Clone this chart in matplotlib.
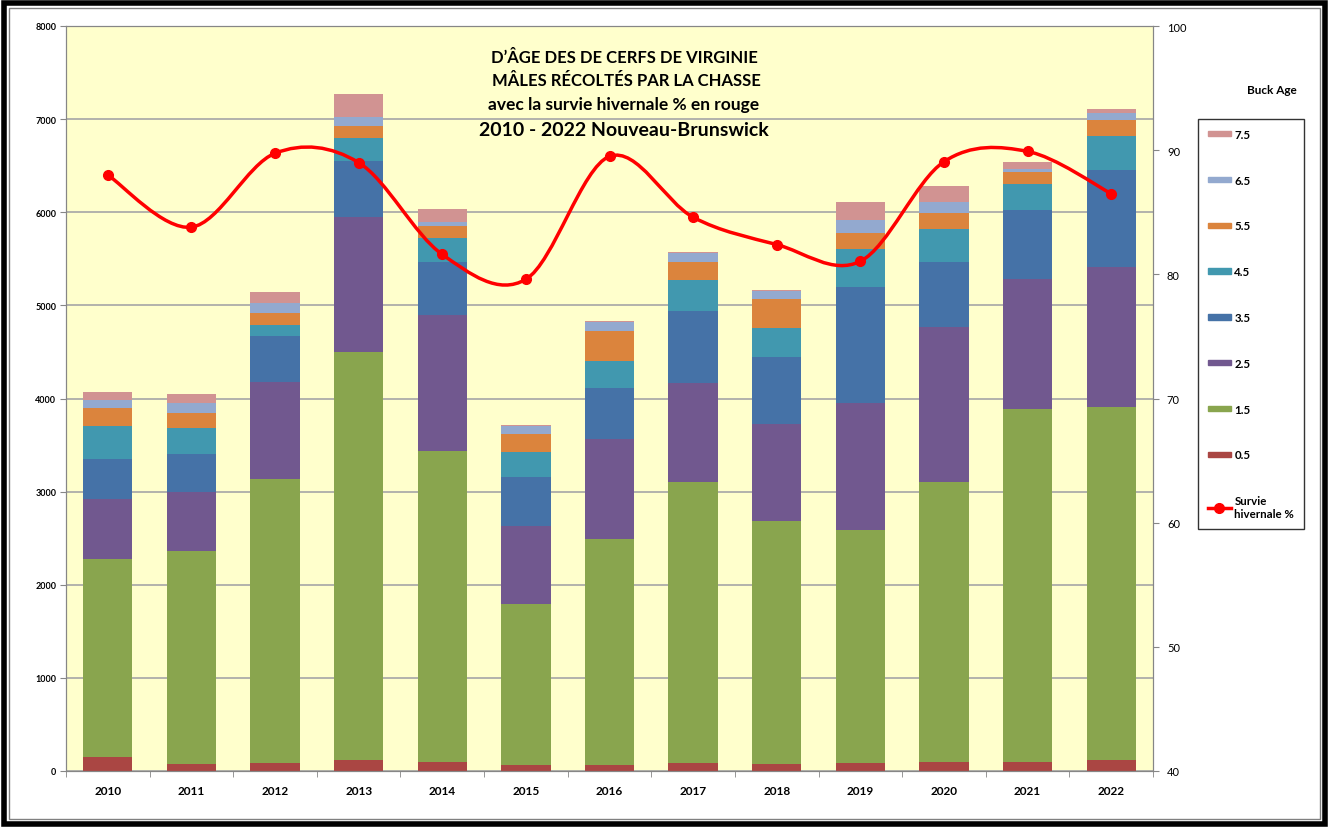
import numpy as np
import matplotlib
matplotlib.use("Agg")
import matplotlib.pyplot as plt
from matplotlib.path import Path
from matplotlib.patches import PathPatch, Patch, Rectangle
from matplotlib.lines import Line2D

plt.rcParams['font.family'] = ['Lato', 'DejaVu Sans']

# data
years = ['2010', '2011', '2012', '2013', '2014', '2015', '2016',
         '2017', '2018', '2019', '2020', '2021', '2022']
ages = ['0.5', '1.5', '2.5', '3.5', '4.5', '5.5', '6.5', '7.5']
age_05 = [155, 75, 89, 118, 100, 64, 64, 82, 72, 82, 100, 100, 122]
age_15 = [2125, 2290, 3050, 4381, 3339, 1726, 2424, 3018, 2613, 2506, 3007, 3787, 3787]
age_25 = [640, 627, 1038, 1450, 1456, 837, 1081, 1066, 1041, 1367, 1661, 1400, 1507]
age_35 = [425, 411, 494, 601, 575, 533, 544, 777, 723, 1246, 701, 737, 1038]
age_45 = [355, 276, 118, 247, 250, 265, 293, 329, 305, 408, 351, 282, 365]
age_55 = [195, 168, 125, 125, 135, 195, 322, 197, 314, 172, 176, 122, 171]
age_65 = [85, 104, 115, 104, 35, 86, 96, 97, 83, 136, 118, 36, 72]
age_75 = [90, 93, 115, 247, 145, 14, 5, 11, 14, 193, 165, 71, 47]
survie = [88.0, 83.8, 89.75, 89.0, 81.6, 79.6, 89.5, 84.6, 82.4, 81.05, 89.07, 89.9, 86.5]

colors = ['#AA4643', '#89A54E', '#71588F', '#4572A7',
          '#4198AF', '#DB843D', '#93A9CF', '#D19392']
series = [age_05, age_15, age_25, age_35, age_45, age_55, age_65, age_75]

fig = plt.figure(figsize=(13.29, 8.29), dpi=100)
W, H = 1329, 829
ax = fig.add_axes([66 / W, 1 - 772 / H, (1153 - 66) / W, (772 - 27) / H])
ax.set_facecolor('#FFFFCC')

x = np.arange(len(years))
bottom = np.zeros(len(years))
for vals, col in zip(series, colors):
    ax.bar(x, vals, 0.59, bottom=bottom, color=col, zorder=2)
    bottom += np.array(vals)

ax.set_xlim(-0.5, len(years) - 0.5)
ax.set_ylim(0, 8000)
ax.set_yticks(range(0, 8001, 1000))
ax.yaxis.grid(True, color='#A6A6A6', lw=1.2, zorder=0)
ax.set_axisbelow(True)
ax.set_xticks(x)
ax.set_xticklabels(years, fontsize=8.5, fontweight='bold')
ax.set_xticks(np.arange(-0.5, len(years), 1), minor=True)
ax.tick_params(axis='x', which='major', length=0, pad=10)
ax.tick_params(axis='x', which='minor', length=4, color='#868686')
ax.tick_params(axis='y', length=4, color='#868686', labelsize=6.5, pad=3)
for lab in ax.get_yticklabels():
    lab.set_fontweight('bold')
for sp in ax.spines.values():
    sp.set_color('#868686')

# survival line on right axis, smoothed like Excel
ax2 = ax.twinx()
ax2.set_ylim(40, 100)
ax2.set_yticks(range(40, 101, 10))
ax2.tick_params(axis='y', length=4, color='#868686', labelsize=8, pad=6)
for sp in ax2.spines.values():
    sp.set_color('#868686')

pts = np.column_stack([x, survie]).astype(float)
verts = [pts[0]]
codes = [Path.MOVETO]
n = len(pts)
for i in range(n - 1):
    p0 = pts[i - 1] if i > 0 else pts[i]
    p1 = pts[i]
    p2 = pts[i + 1]
    p3 = pts[i + 2] if i + 2 < n else pts[i + 1]
    c1 = p1 + (p2 - p0) / 6.0
    c2 = p2 - (p3 - p1) / 6.0
    verts += [c1, c2, p2]
    codes += [Path.CURVE4] * 3
ax2.add_patch(PathPatch(Path(verts, codes), fill=False, edgecolor='#FF0000', lw=2.5, zorder=5))
ax2.plot(x, survie, 'o', color='#FF0000', ms=7, zorder=6)

# title block
tx = 624 / W
fig.text(tx, 1 - 58 / H, 'D’ÂGE DES DE CERFS DE VIRGINIE', ha='center', va='center',
         fontsize=12, fontweight='bold')
fig.text(tx, 1 - 81 / H, ' MÂLES RÉCOLTÉS PAR LA CHASSE', ha='center', va='center',
         fontsize=12, fontweight='bold')
fig.text(tx, 1 - 105 / H, 'avec la survie hivernale % en rouge', ha='center', va='center',
         fontsize=12.5, fontweight='bold')
fig.text(tx, 1 - 130 / H, '2010 - 2022 Nouveau-Brunswick', ha='center', va='center',
         fontsize=14, fontweight='bold')

# legend
handles = [Patch(color=c) for c in colors[::-1]]
labels = ages[::-1]
handles.append(Line2D([], [], color='#FF0000', lw=2.5, marker='o', ms=7))
labels.append('Survie\nhivernale %')
leg = fig.legend(handles, labels, loc='upper left',
                 bbox_to_anchor=(1198 / W, 1 - 120 / H), frameon=True,
                 fancybox=False, edgecolor='black', fontsize=8.3,
                 handlelength=2.0, handleheight=0.35, handletextpad=0.3,
                 labelspacing=3.02, borderpad=0.85, borderaxespad=0)
leg.get_frame().set_linewidth(1.0)
for t in leg.get_texts():
    t.set_fontweight('bold')
fig.text(1272 / W, 1 - 90 / H, 'Buck Age', ha='center', va='center',
         fontsize=8.5, fontweight='bold')

# outer frame
fig.patches.append(Rectangle((4 / W, 4 / H), 1 - 8 / W, 1 - 8 / H, transform=fig.transFigure,
                             fill=False, edgecolor='black', lw=4))
fig.patches.append(Rectangle((9 / W, 9 / H), 1 - 18 / W, 1 - 18 / H, transform=fig.transFigure,
                             fill=False, edgecolor='#808080', lw=1))

fig.savefig('out.png', dpi=100)
